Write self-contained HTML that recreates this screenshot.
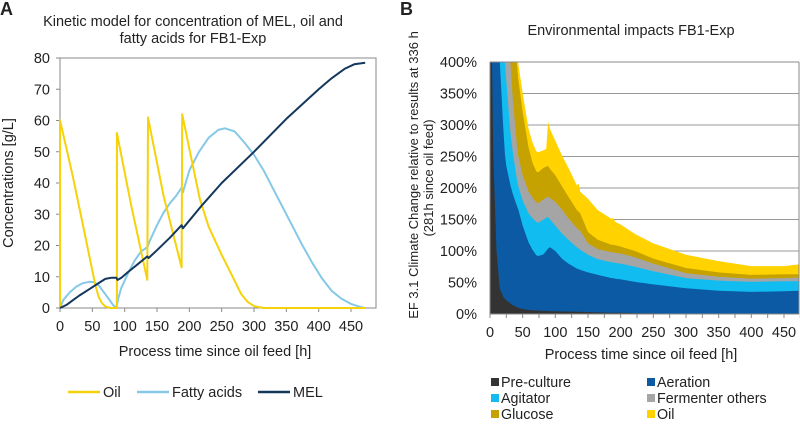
<!DOCTYPE html>
<html><head><meta charset="utf-8"><style>
body{margin:0;background:#fff;width:800px;height:420px;overflow:hidden;font-family:"Liberation Sans",Arial,sans-serif}
svg text{font-family:"Liberation Sans",Arial,sans-serif;fill:#222}
</style></head><body>
<svg id="s" width="800" height="420">
<text x="0" y="15" font-size="18" font-weight="bold">A</text>
<text x="400" y="15" font-size="18" font-weight="bold">B</text>
<text x="193" y="26" font-size="14.5" text-anchor="middle">Kinetic model for concentration of MEL, oil and</text>
<text x="193" y="43" font-size="14.5" text-anchor="middle">fatty acids for FB1-Exp</text>
<text x="631" y="35" font-size="14.5" text-anchor="middle">Environmental impacts FB1-Exp</text>
<g id="ga"></g><g id="gb"></g>
</svg>
<script>
// ---- Chart A data ----
const oilT=[0,0,10,20,30,40,50,55,60,65,70,78,88,88,110,135,136,160,188,189,200,216,230,250,267,280,290,300,315,472];
const oilV=[0,60,51,42,32,22,12,7,3.5,1.5,0.5,0,0,56,33,9,61,36,13,62,51,35,26,17,10,4.5,2,0.6,0,0];
const faT=[0,5,15,25,35,45,52,60,68,75,82,87,90,95,105,115,125,135,140,150,160,170,180,188,190,200,215,230,245,255,270,285,300,315,330,345,360,375,390,405,420,435,450,465,472];
const faV=[0,2.5,5,6.8,7.9,8.4,8.3,7.2,5,3,1,0,3,6.5,11,15,18,19.5,22,26.5,30.5,33.5,36,38.5,37,44,50,54.5,57,57.5,56.5,53,49,44,38,32,26,20,14.5,9.5,5.5,3,1.3,0.3,0];
const melT=[0,10,20,30,45,60,70,80,87,89,95,105,120,135,137,150,170,188,190,220,250,300,350,400,420,440,455,472];
const melV=[0,1,2.5,4,6,8,9.3,9.7,9.7,9,9.7,11.5,14,16.5,16,18.5,22.5,26.5,25.5,33,40,50,60.5,70,73.5,76.5,78,78.5];
const aXTicks=[0,50,100,150,200,250,300,350,400,450];
const aYTicks=[0,10,20,30,40,50,60,70,80];
// ---- Chart B data (cumulative stack tops, %) ----
const bT=[0,3,5,10,15,20,23,25,31,35,41,43,50,59,65,71,74,82,86,89,92,100,110,120,133,136,138,150,165,186,188,192,200,222,250,300,350,400,450,475];
const cumPre=[600,400,250,100,40,28,24,22,17,14,11,10,8,6.5,6,5.5,5.5,5,5,5,4.5,4.5,4,4,3.5,3.5,3.5,3,2.5,2,2,2,2,1.5,1,0.5,0.5,0,0,0];
const cumAer=[700,650,600,480,400,300,252,235,205,190,172,167,140,114,102,93,92,95,100,104,106,100,88,80,72,71,70,66,62,57,57,56,55,51,47,41,37,35,36,37];
const cumAgi=[800,750,700,600,520,440,400,370,290,255,215,204,180,160,152,146,145,150,153,154,150,140,128,118,106,104,102,94,87,82,82,81,80,75,68,57,53,51,52,52];
const cumFer=[900,850,800,700,620,540,480,450,400,340,270,252,220,195,185,177,176,182,185,186,184,178,166,152,136,134,132,112,103,98,98,97,96,90,80,65,59,56,57,58];
const cumGlu=[1000,950,900,800,720,640,580,540,480,440,400,375,320,265,240,226,225,232,234,235,230,220,203,186,165,162,160,130,118,110,110,109,107,100,88,73,66,62,63,63];
const cumOil=[1100,1050,1000,900,800,720,660,620,540,480,420,400,350,294,272,258,257,260,262,305,293,275,252,232,204,207,194,183,165,151,153,146,142,127,112,94,84,76,76,79];
const bXTicks=[0,50,100,150,200,250,300,350,400,450];
const bYTicks=[0,50,100,150,200,250,300,350,400];
const NS='http://www.w3.org/2000/svg';
function mk(p,tag,at){const e=document.createElementNS(NS,tag);for(const k in at)e.setAttribute(k,at[k]);p.appendChild(e);return e;}
// Chart A
const ga=document.getElementById('ga');
const ax=t=>60+t*0.6467, ay=v=>308-v*3.125;
mk(ga,'rect',{x:60,y:58,width:316,height:250,fill:'none',stroke:'#888','stroke-width':1});
aYTicks.forEach(v=>{const t=mk(ga,'text',{x:50,y:ay(v)+5,'font-size':14.5,'text-anchor':'end'});t.textContent=v;


mk(ga,'line',{x1:56,x2:60,y1:ay(v),y2:ay(v),stroke:'#888'});});
aXTicks.forEach(v=>{const t=mk(ga,'text',{x:ax(v),y:331,'font-size':14.5,'text-anchor':'middle'});t.textContent=v;


mk(ga,'line',{x1:ax(v),x2:ax(v),y1:308,y2:312,stroke:'#888'});});
let t=mk(ga,'text',{x:215,y:356,'font-size':14.5,'text-anchor':'middle'});t.textContent='Process time since oil feed [h]';


t=mk(ga,'text',{x:0,y:0,'font-size':14.5,'text-anchor':'middle',transform:'translate(13,183) rotate(-90)'});t.textContent='Concentrations [g/L]';


function line(T,V,c,name){const p=mk(ga,'path',{d:T.map((x,i)=>(i?'L':'M')+ax(x).toFixed(1)+','+ay(V[i]).toFixed(1)).join(''),fill:'none',stroke:c,'stroke-width':2,'stroke-linejoin':'round'});

}
line(faT,faV,'#86c8e8','fatty-acids-line');
line(oilT,oilV,'#f6d20a','oil-line');
line(melT,melV,'#14375c','mel-line');
const legA=[['Oil','#f6d20a',68],['Fatty acids','#86c8e8',137],['MEL','#14375c',258]];
legA.forEach(([n,c,x])=>{mk(ga,'line',{x1:x,x2:x+32,y1:392,y2:392,stroke:c,'stroke-width':2.5});
const tt=mk(ga,'text',{x:x+35,y:397,'font-size':14.5});tt.textContent=n;

});
// Chart B
const gb=document.getElementById('gb');
const bx=t=>490+t*0.6533, by=v=>314-v*0.63;
mk(gb,'clipPath',{id:'cb'});mk(gb.lastChild,'rect',{x:490,y:62,width:309,height:252});
bYTicks.forEach(v=>{mk(gb,'line',{x1:490,x2:799,y1:by(v),y2:by(v),stroke:'#999','stroke-width':1});
const tt=mk(gb,'text',{x:477,y:by(v)+5,'font-size':14.5,'text-anchor':'end'});tt.textContent=v+'%';

});
const layers=[[cumOil,'#ffd200','oil-area'],[cumGlu,'#c6a200','glucose-area'],[cumFer,'#a5a5a5','fermenter-others-area'],[cumAgi,'#11bdf0','agitator-area'],[cumAer,'#0b5aa3','aeration-area'],[cumPre,'#333333','pre-culture-area']];
const cg=mk(gb,'g',{'clip-path':'url(#cb)'});
layers.forEach(([C,c,n])=>{let d='M'+bx(0)+','+by(0);bT.forEach((x,i)=>d+='L'+bx(x).toFixed(1)+','+by(C[i]).toFixed(1));d+='L'+bx(bT[bT.length-1]).toFixed(1)+','+by(0)+'Z';
const p=mk(cg,'path',{d:d,fill:c});

});
mk(gb,'line',{x1:490,x2:490,y1:62,y2:314,stroke:'#888'});
mk(gb,'line',{x1:490,x2:799,y1:314,y2:314,stroke:'#888'});
mk(gb,'line',{x1:799,x2:799,y1:62,y2:314,stroke:'#888'});
mk(gb,'line',{x1:490,x2:799,y1:62,y2:62,stroke:'#888'});
for(let v=0;v<=475;v+=25){mk(gb,'line',{x1:bx(v),x2:bx(v),y1:314,y2:318,stroke:'#888'});}
bXTicks.forEach(v=>{const tt=mk(gb,'text',{x:bx(v),y:337,'font-size':14.5,'text-anchor':'middle'});tt.textContent=v;

});
t=mk(gb,'text',{x:641,y:359,'font-size':14.5,'text-anchor':'middle'});t.textContent='Process time since oil feed [h]';


t=mk(gb,'text',{x:0,y:0,'font-size':13,'text-anchor':'middle',transform:'translate(418,175) rotate(-90)'});t.textContent='EF 3.1 Climate Change relative to results at  336 h';


t=mk(gb,'text',{x:0,y:0,'font-size':13,'text-anchor':'middle',transform:'translate(433,178) rotate(-90)'});t.textContent='(281h since oil feed)';


const legB=[['Pre-culture','#333333',491,382],['Aeration','#0b5aa3',647,382],['Agitator','#11bdf0',491,398],['Fermenter others','#a5a5a5',647,398],['Glucose','#c6a200',491,414],['Oil','#ffd200',647,414]];
legB.forEach(([n,c,x,y])=>{mk(gb,'rect',{x:x,y:y-4,width:8,height:8,fill:c});
const tt=mk(gb,'text',{x:x+10,y:y+5,'font-size':14.3});tt.textContent=n;

});
</script>
</body></html>
